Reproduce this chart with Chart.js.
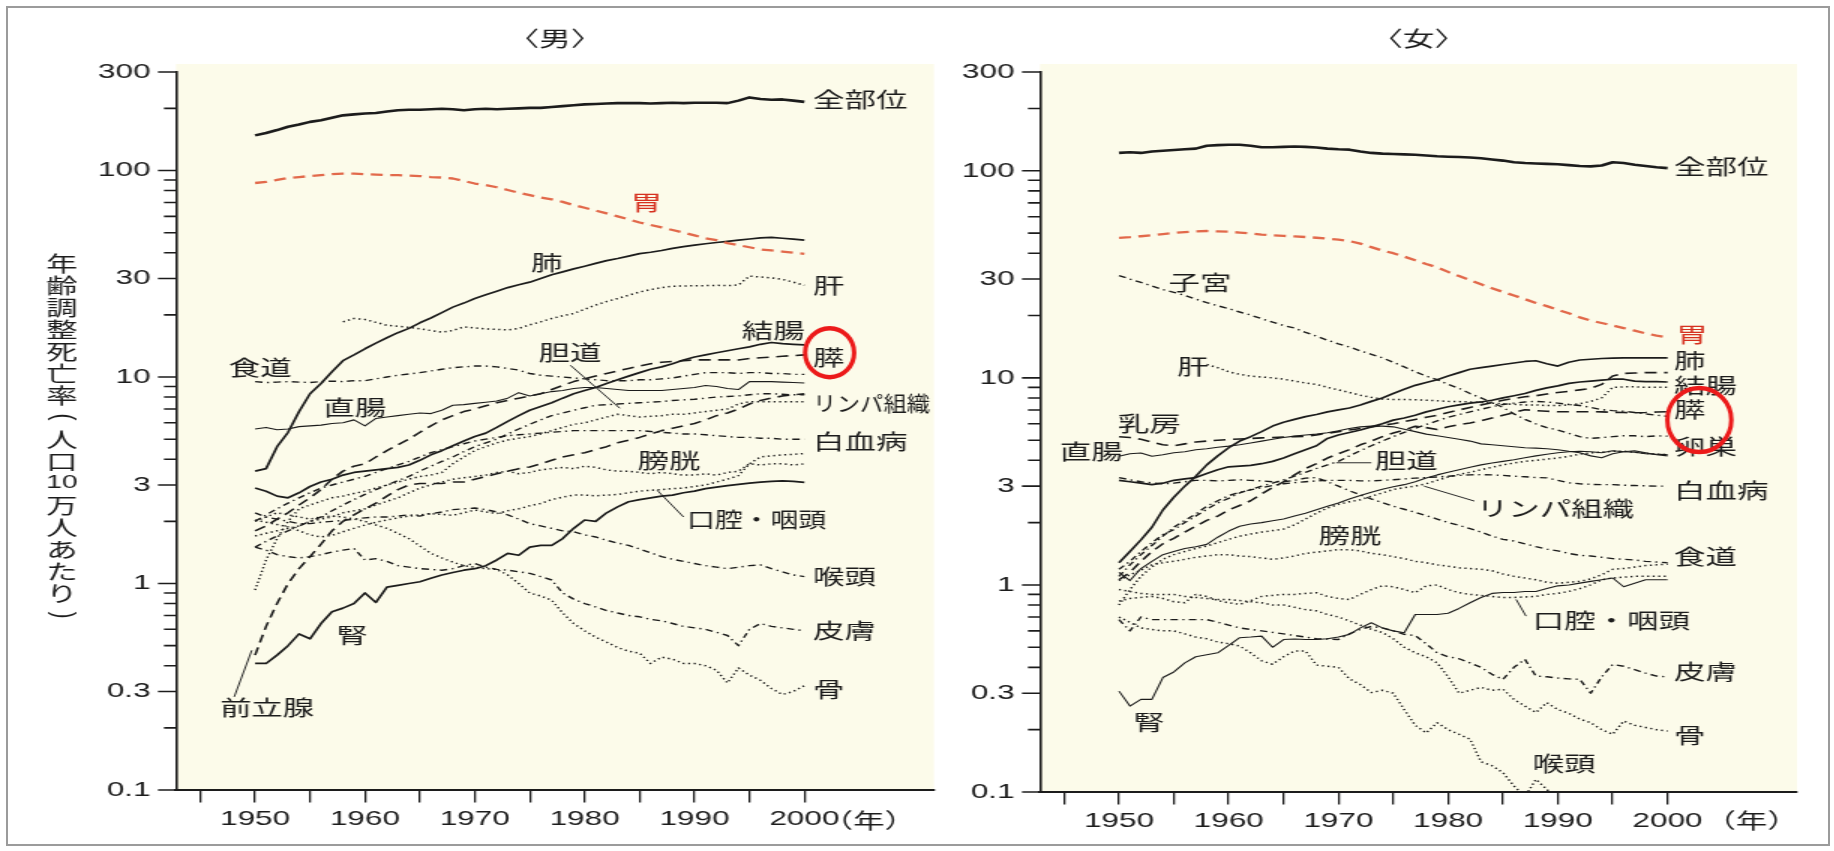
<!DOCTYPE html>
<html lang="ja">
<head>
<meta charset="utf-8">
<title>部位別がん年齢調整死亡率の年次推移（男・女）</title>
<script src="https://cdn.jsdelivr.net/npm/chart.js@4.4.1/dist/chart.umd.min.js"></script>
<style>
html, body { margin: 0; padding: 0; background: #fff; }
#fig { position: relative; width: 1834px; height: 851px; overflow: hidden; background: #fff; }
#frame { position: absolute; left: 6px; top: 6px; width: 1820px; height: 836px; border: 2px solid #9b9b9b; }
canvas { position: absolute; top: 0; }
</style>
</head>
<body>
<div id="fig">
  <div id="frame"></div>
  <!-- each panel is rendered on a narrower backing store and widened 1.5x by CSS -->
  <canvas id="male" width="634" height="851" style="left:0px;width:951px;height:851px;"></canvas>
  <canvas id="female" width="588" height="851" style="left:951px;width:882px;height:851px;"></canvas>
</div>
<script>
// ---------------- years ----------------
const YEARS = [1950,1951,1952,1953,1954,1955,1956,1957,1958,1959,
               1960,1961,1962,1963,1964,1965,1966,1967,1968,1969,
               1970,1971,1972,1973,1974,1975,1976,1977,1978,1979,
               1980,1981,1982,1983,1984,1985,1986,1987,1988,1989,
               1990,1991,1992,1993,1994,1995,1996,1997,1998,1999,
               2000];

// ---------------- 男 (rate per 100,000) ----------------
const M_ALL      = [148,152,157,163,167,172,175,180,185,187, 189,190,193,196,197,197,198,199,198,196, 198,199,198,199,200,201,201,203,205,207, 209,210,211,212,212,212,211,212,213,212, 213,213,213,212,218,226,222,220,221,218, 215];
const M_STOMACH  = [87,88,90,92,93,94,95,96,96.5,96.5, 96,95.5,95,95,94.5,94,93,92.5,91.5,89, 86.5,85,83,80.5,78,76,74,72.5,70.5,68, 66,64,62,60,58,56,54.5,53,51.5,50, 48.5,47,46,44.5,43.5,42.5,41.5,41,40.5,40, 39.5];
const M_LUNG     = [3.5,3.6,4.6,5.4,6.8,8.3,9.3,10.6,12,12.8, 13.7,14.6,15.5,16.4,17.2,18.3,19.3,20.5,21.8,22.8, 24,25,26,27.1,28,28.8,30,31.3,32.3,33.4, 34.4,35.5,36.6,37.5,38.5,39.6,40.2,41,42,42.8, 43.5,44.2,44.8,45.4,46,46.6,47.2,47.5,47,46.5, 46];
const M_LIVER    = [null,null,null,null,null,null,null,null,18.5,19.2, 19,18.4,17.8,17.6,17.4,17.1,16.8,16.5,16.8,17.5, 17.3,17.1,17.0,16.9,17.2,17.9,18.5,19.2,19.8,20.3, 21.3,22.3,23.2,24,24.9,25.8,26.5,27.1,27.5,27.6, 27.7,27.7,27.8,27.7,27.9,30.8,30.5,30.2,29.7,28.8, 27.8];
const M_COLON    = [2.9,2.8,2.65,2.6,2.75,2.95,3.1,3.2,3.35,3.45, 3.5,3.55,3.6,3.65,3.75,3.95,4.2,4.4,4.65,4.9, 5.15,5.35,5.7,6.1,6.5,6.9,7.2,7.5,7.9,8.3, 8.6,8.9,9.3,9.7,10.1,10.5,10.9,11.2,11.6,12.1, 12.5,12.8,13.1,13.4,13.7,14.0,14.4,14.7,14.5,14.4, 14.3];
const M_RECTUM   = [5.6,5.7,5.55,5.6,5.75,5.8,5.85,5.95,6.0,6.2, 5.8,6.3,6.4,6.5,6.6,6.7,6.65,6.9,7.3,7.35, 7.45,7.55,7.65,7.9,8.4,8.1,8.3,8.5,8.6,8.8, 8.9,8.9,8.8,8.7,8.6,8.6,8.6,8.6,8.7,8.8, 8.9,9.1,9.0,8.8,8.7,9.5,9.5,9.5,9.45,9.4, 9.35];
const M_PANCREAS = [1.8,1.9,2.05,2.2,2.4,2.6,2.85,3.2,3.5,3.7, 3.8,4.1,4.4,4.7,5.0,5.4,5.8,6.2,6.5,6.8, 7.0,7.25,7.5,7.7,7.9,8.1,8.3,8.7,9.1,9.5, 9.8,10.1,10.4,10.7,11.0,11.3,11.6,11.8,11.9,12.0, 12.1,12.1,12.1,12.1,12.1,12.3,12.4,12.5,12.6,12.7, 12.8];
const M_ESOPH    = [9.5,9.4,9.45,9.5,9.45,9.4,9.5,9.55,9.5,9.6, 9.6,9.8,10.0,10.2,10.35,10.5,10.7,10.9,11.1,11.2, 11.3,11.3,11.2,11.0,10.8,10.4,10.2,10.1,10.0,9.9, 9.8,9.7,9.6,9.6,9.6,9.7,9.7,9.8,9.9,10.1, 10.3,10.5,10.5,10.5,10.4,10.5,10.5,10.4,10.4,10.3, 10.3];
const M_BILIARY  = [1.5,1.6,1.7,1.8,1.9,2.0,2.1,2.25,2.4,2.55, 2.7,2.85,3.0,3.15,3.3,3.5,3.7,3.9,4.1,4.35, 4.6,4.8,5.0,5.3,5.6,5.9,6.2,6.5,6.7,6.9, 7.1,7.3,7.35,7.4,7.45,7.5,7.55,7.6,7.7,7.75, 7.8,7.9,8.0,8.05,8.1,8.2,8.3,8.3,8.25,8.2, 8.2];
const M_PROSTATE = [0.45,0.62,0.8,1.0,1.18,1.35,1.55,1.8,2.0,2.15, 2.3,2.45,2.65,2.85,3.0,3.05,3.05,3.05,3.1,3.1, 3.2,3.3,3.4,3.5,3.6,3.67,3.8,3.95,4.1,4.2, 4.3,4.45,4.6,4.8,4.95,5.1,5.3,5.5,5.65,5.8, 5.95,6.2,6.5,6.7,7.0,7.4,7.7,7.9,8.1,8.2, 8.3];
const M_LYMPH    = [0.93,1.3,1.65,2.0,2.3,2.4,2.5,2.6,2.65,2.73, 2.8,2.9,3.0,3.1,3.2,3.3,3.35,3.45,3.8,4.1, 4.4,4.6,4.8,4.95,5.05,5.15,5.3,5.5,5.7,5.9, 6.0,6.2,6.4,6.6,6.5,6.4,6.45,6.5,6.6,6.6, 6.7,6.8,6.9,7.0,7.4,7.6,7.6,7.6,7.6,7.6, 7.6];
const M_LEUK     = [2.0,2.15,2.3,2.45,2.6,2.75,2.9,3.0,3.1,3.2, 3.3,3.45,3.6,3.75,3.9,4.1,4.3,4.45,4.6,4.75, 4.9,5.0,5.1,5.2,5.25,5.3,5.35,5.4,5.45,5.5, 5.5,5.5,5.5,5.5,5.5,5.5,5.45,5.4,5.35,5.3, 5.3,5.25,5.2,5.15,5.1,5.1,5.05,5.05,5.0,5.0, 5.0];
const M_BLADDER  = [1.7,1.75,1.8,1.85,1.9,2.0,2.05,2.1,2.2,2.25, 2.3,2.4,2.5,2.6,2.75,2.9,3.0,3.1,3.2,3.25, 3.3,3.35,3.45,3.5,3.4,3.45,3.55,3.6,3.65,3.6, 3.7,3.65,3.55,3.5,3.5,3.45,3.4,3.45,3.4,3.35, 3.35,3.4,3.35,3.45,3.5,3.8,3.75,3.8,3.8,3.75, 3.8];
const M_ORAL     = [2.03,1.98,1.93,1.88,1.8,1.72,1.68,1.71,1.78,1.85, 1.92,1.98,2.03,2.08,2.12,2.15,2.18,2.16,2.14,2.2, 2.27,2.22,2.18,2.25,2.3,2.38,2.44,2.55,2.62,2.68, 2.68,2.66,2.68,2.7,2.75,2.8,2.83,2.85,2.88,2.9, 2.95,3.0,3.1,3.2,3.33,3.8,4.1,4.15,4.2,4.22, 4.26];
const M_KIDNEY   = [0.41,0.41,0.45,0.5,0.57,0.54,0.64,0.73,0.76,0.8, 0.9,0.81,0.96,0.98,1.0,1.02,1.06,1.1,1.13,1.16, 1.18,1.22,1.3,1.4,1.37,1.5,1.53,1.53,1.65,1.85, 2.03,2.0,2.2,2.35,2.49,2.55,2.6,2.65,2.68,2.75, 2.8,2.88,2.93,2.98,3.02,3.06,3.1,3.12,3.14,3.12, 3.09];
const M_LARYNX   = [2.2,2.1,2.05,2.0,1.95,1.95,1.98,2.0,2.02,2.05, 2.08,2.1,2.1,2.12,2.15,2.12,2.18,2.22,2.28,2.3, 2.32,2.28,2.22,2.15,2.05,1.95,1.9,1.85,1.8,1.78, 1.72,1.68,1.62,1.57,1.53,1.47,1.41,1.35,1.31,1.28, 1.25,1.22,1.2,1.18,1.2,1.22,1.23,1.18,1.14,1.1, 1.08];
const M_SKIN     = [1.5,1.45,1.38,1.35,1.33,1.35,1.38,1.42,1.45,1.48, 1.3,1.32,1.28,1.22,1.2,1.18,1.17,1.16,1.18,1.22, 1.25,1.2,1.17,1.16,1.14,1.12,1.08,1.04,0.9,0.84, 0.8,0.77,0.74,0.72,0.7,0.69,0.67,0.66,0.64,0.62, 0.61,0.6,0.58,0.56,0.5,0.6,0.64,0.62,0.61,0.6, 0.59];
const M_BONE     = [2.0,2.1,2.2,2.15,2.1,2.05,2.1,2.12,2.1,2.05, 2.0,1.92,1.85,1.75,1.65,1.52,1.4,1.33,1.27,1.22, 1.2,1.18,1.17,1.1,1.0,0.9,0.87,0.83,0.72,0.64, 0.59,0.55,0.52,0.49,0.47,0.46,0.41,0.44,0.43,0.41, 0.41,0.4,0.38,0.33,0.39,0.36,0.34,0.31,0.29,0.3, 0.32];

// ---------------- 女 (rate per 100,000) ----------------
const F_ALL      = [122,123,122,124,125,126,127,128,132,133, 133.5,133.5,132,130,130,130.5,131,130.5,129.5,128, 127,126.5,124,122,121,120.5,120,119.5,118.5,117.5, 117,116.5,116,115,113.5,112,110,109,108.5,108, 107.5,106.5,105.5,105,106,110,109,107,105.5,104, 103];
const F_STOMACH  = [47.4,47.8,48.3,48.8,49.5,50.1,50.6,51,51.2,51, 50.8,50.3,49.8,49.2,48.8,48.5,48.2,47.9,47.5,47, 46.5,45.8,44.5,42.8,41.2,40,38.5,37,35.5,34.2, 32.5,31,29.6,28.3,27.1,26,25,24,23,22.2, 21.3,20.5,19.6,18.9,18.4,17.9,17.4,16.9,16.4,16, 15.7];
const F_UTERUS   = [31.2,30,28.9,27.8,26.7,25.9,25,24,23.1,22.3, 21.6,20.8,20.1,19.3,18.6,17.9,17.4,16.6,15.9,15.2, 14.6,14.1,13.5,13.0,12.5,11.9,11.3,10.7,10.2,9.8, 9.3,8.9,8.4,8.0,7.6,7.2,6.7,6.3,6.0,5.75, 5.6,5.4,5.2,5.1,5.15,5.2,5.25,5.25,5.2,5.25, 5.23];
const F_LUNG     = [1.28,1.45,1.65,1.9,2.3,2.65,3.0,3.35,3.8,4.2, 4.6,4.95,5.2,5.5,5.85,6.1,6.3,6.5,6.65,6.85, 7.0,7.15,7.4,7.7,8.0,8.4,8.8,9.2,9.5,9.8, 10.2,10.6,11.0,11.2,11.4,11.6,11.8,12.0,12.1,11.7, 11.4,11.9,12.2,12.3,12.4,12.45,12.5,12.5,12.5,12.5, 12.5];
const F_COLON    = [3.2,3.15,3.1,3.05,3.1,3.2,3.25,3.3,3.45,3.6, 3.72,3.75,3.78,3.85,3.95,4.1,4.3,4.5,4.7,5.1, 5.3,5.45,5.6,5.8,6.0,6.25,6.4,6.6,6.85,7.05, 7.25,7.4,7.55,7.65,7.8,8.0,8.2,8.4,8.7,8.95, 9.15,9.4,9.55,9.65,9.75,9.85,9.85,9.65,9.6,9.6, 9.55];
const F_RECTUM   = [4.18,4.3,4.34,4.18,4.25,4.35,4.4,4.5,4.55,4.62, 4.68,4.75,4.85,4.95,5.05,5.15,5.23,5.3,5.35,5.43, 5.55,5.7,5.8,5.85,5.85,5.8,5.65,5.5,5.35,5.25, 5.15,5.05,4.95,4.8,4.75,4.7,4.65,4.6,4.58,4.55, 4.5,4.42,4.35,4.2,4.11,4.3,4.4,4.45,4.35,4.25, 4.2];
const F_LIVER    = [null,null,null,null,null,null,null,null,11.6,11.2, 10.7,10.4,10.2,10.1,10.0,9.85,9.65,9.45,9.3,9.0, 8.75,8.5,8.25,8.05,7.9,7.86,7.86,7.84,7.8,7.75, 7.7,7.68,7.65,7.6,7.55,7.5,7.45,7.4,7.4,7.35, 7.35,7.4,7.5,7.7,8.0,9.0,9.05,9.05,9.0,9.0, 9.0];
const F_BREAST   = [5.2,5.15,5.05,4.9,4.75,4.7,4.8,4.9,4.95,5.0, 5.04,5.07,5.1,5.13,5.15,5.18,5.2,5.22,5.3,5.4, 5.5,5.6,5.7,5.8,5.9,6.0,6.15,6.3,6.45,6.6, 6.8,7.0,7.2,7.4,7.6,7.8,7.95,8.1,8.2,8.35, 8.5,8.6,8.75,8.9,9.3,10.2,10.5,10.55,10.6,10.6, 10.6];
const F_PANCREAS = [1.06,1.15,1.3,1.45,1.58,1.68,1.8,1.92,2.05,2.15, 2.3,2.42,2.55,2.75,2.95,3.15,3.4,3.65,3.85,4.1, 4.3,4.5,4.75,4.95,5.2,5.42,5.6,5.84,5.75,5.63, 5.8,5.95,6.06,6.2,6.4,6.6,6.8,7.02,6.95,6.9, 6.86,6.86,6.86,6.86,6.85,6.82,6.8,6.78,6.8,6.84, 6.86];
const F_BILIARY  = [1.19,1.3,1.45,1.6,1.75,1.85,2.0,2.15,2.32,2.49, 2.62,2.78,2.89,3.0,3.1,3.22,3.35,3.5,3.65,3.8, 3.95,4.2,4.45,4.7,4.95,5.2,5.45,5.7,5.95,6.2, 6.45,6.65,6.85,7.05,7.25,7.44,7.55,7.65,7.7,7.65, 7.55,7.44,7.35,7.2,7.02,6.95,6.9,6.8,6.7,6.6, 6.52];
const F_OVARY    = [1.15,1.05,1.2,1.3,1.4,1.45,1.5,1.53,1.57,1.7, 1.82,1.92,1.97,2.0,2.04,2.08,2.15,2.22,2.31,2.4, 2.49,2.6,2.7,2.8,2.9,2.98,3.05,3.15,3.28,3.4, 3.5,3.6,3.7,3.8,3.88,3.95,4.02,4.11,4.2,4.28, 4.35,4.4,4.42,4.4,4.35,4.45,4.4,4.38,4.3,4.28, 4.26];
const F_LYMPH    = [0.8,0.95,1.1,1.22,1.33,1.4,1.45,1.5,1.54,1.6, 1.66,1.72,1.76,1.8,1.83,1.86,1.95,2.08,2.22,2.35, 2.45,2.52,2.58,2.68,2.78,2.89,2.95,3.0,3.08,3.2, 3.32,3.42,3.5,3.6,3.7,3.8,3.88,3.95,4.0,4.05, 4.1,4.18,4.28,4.34,4.38,4.42,4.42,4.38,4.32,4.28, 4.26];
const F_LEUK     = [1.1,1.25,1.4,1.55,1.72,1.9,2.05,2.2,2.4,2.55, 2.7,2.8,2.88,2.95,3.02,3.08,3.12,3.15,3.18,3.2, 3.2,3.2,3.18,3.18,3.2,3.22,3.25,3.28,3.3,3.32, 3.35,3.38,3.4,3.41,3.4,3.38,3.35,3.33,3.3,3.29, 3.2,3.11,3.08,3.06,3.05,3.05,3.03,3.02,3.01,3.0, 3.0];
const F_ESOPH    = [3.3,3.22,3.15,3.11,3.08,3.1,3.15,3.2,3.2,3.18, 3.2,3.22,3.2,3.18,3.15,3.15,3.2,3.28,3.3,3.15, 3.0,2.85,2.72,2.6,2.5,2.4,2.32,2.24,2.16,2.08, 2.0,1.94,1.87,1.8,1.72,1.66,1.63,1.58,1.53,1.49, 1.46,1.42,1.39,1.38,1.36,1.34,1.33,1.32,1.3,1.29, 1.28];
const F_BLADDER  = [1.05,1.12,1.18,1.25,1.28,1.3,1.33,1.36,1.38,1.4, 1.4,1.38,1.37,1.35,1.33,1.35,1.38,1.42,1.44,1.46, 1.48,1.48,1.46,1.42,1.4,1.37,1.34,1.3,1.28,1.25, 1.23,1.21,1.2,1.19,1.17,1.13,1.1,1.08,1.06,1.03, 1.02,1.03,1.04,1.07,1.12,1.19,1.2,1.22,1.24,1.25, 1.26];
const F_ORAL     = [0.835,0.86,0.87,0.88,0.86,0.83,0.82,0.9,0.88,0.84, 0.82,0.805,0.84,0.88,0.89,0.9,0.9,0.91,0.917,0.88, 0.86,0.85,0.9,0.95,0.99,0.98,0.95,0.917,0.99,1.0, 0.95,0.917,0.9,0.89,0.88,0.87,0.87,0.875,0.88,0.9, 0.91,0.93,0.96,1.0,1.06,1.08,1.09,1.1,1.1,1.1, 1.1];
const F_KIDNEY   = [0.307,0.26,0.28,0.28,0.357,0.38,0.42,0.45,0.46,0.47, 0.51,0.556,0.56,0.566,0.5,0.545,0.548,0.545,0.545,0.55, 0.56,0.577,0.62,0.657,0.62,0.6,0.588,0.72,0.72,0.72, 0.73,0.77,0.82,0.87,0.91,0.92,0.92,0.93,0.93,0.96, 0.99,1.0,1.02,1.04,1.06,1.08,0.98,1.02,1.06,1.06, 1.06];
const F_SKIN     = [0.68,0.6,0.7,0.68,0.68,0.68,0.68,0.68,0.68,0.66, 0.64,0.62,0.61,0.6,0.59,0.58,0.57,0.56,0.55,0.548, 0.545,0.58,0.61,0.63,0.62,0.6,0.577,0.57,0.52,0.47, 0.45,0.44,0.42,0.4,0.37,0.35,0.4,0.437,0.363,0.36, 0.355,0.352,0.35,0.3,0.36,0.413,0.405,0.39,0.375,0.363, 0.36];
const F_BONE     = [0.95,0.93,0.91,0.9,0.9,0.9,0.88,0.87,0.86,0.85, 0.85,0.84,0.83,0.82,0.8,0.8,0.78,0.76,0.75,0.72, 0.7,0.67,0.64,0.61,0.59,0.55,0.5,0.47,0.45,0.42, 0.36,0.3,0.31,0.32,0.31,0.314,0.28,0.26,0.242,0.27, 0.25,0.24,0.225,0.216,0.2,0.19,0.22,0.21,0.205,0.2, 0.197];
const F_LARYNX   = [0.7,0.66,0.62,0.61,0.6,0.6,0.58,0.56,0.55,0.53, 0.52,0.507,0.47,0.43,0.414,0.45,0.48,0.48,0.41,0.405, 0.4,0.352,0.33,0.302,0.31,0.3,0.25,0.21,0.193,0.216, 0.2,0.19,0.18,0.14,0.134,0.124,0.107,0.095,0.115,0.103, 0.09,0.085,0.08,0.078,0.075,0.08,0.078,0.076,0.075,0.074, 0.073];

// ---------------- axes ----------------
const X_MIN = 1942.8, X_MAX = 2011.8;
const X_TICKS = [1945,1950,1955,1960,1965,1970,1975,1980,1985,1990,1995,2000];
const X_TICK_LABELS = ['','1950','','1960','','1970','','1980','','1990','','2000'];
const Y_TICKS = [0.1,0.2,0.3,0.4,0.5,0.6,0.7,0.8,0.9, 1,2,3,4,5,6,7,8,9, 10,20,30,40,50,60,70,80,90, 100,200,300];
const Y_MAJOR = [0.1,0.3,1,3,10,30,100,300];
const Y_MAJOR_LABELS = ['0.1','0.3','1','3','10','30','100','300'];

// ---------------- look ----------------
const INK = '#1c1c1c';
const STOMACH_RED = '#e2694b';
const LABEL_RED = '#d6301f';
const MARK_RED = '#ec1a1a';
const PLOT_BG = '#fcfbea';
const FONT_NUM = '"Liberation Sans", Arial, sans-serif';
const FONT_JP = '"Noto Sans CJK JP", "Noto Sans CJK SC", sans-serif';

const STYLES = {
  thick:   { color: INK, width: 2.6, dash: [] },
  solid:   { color: INK, width: 1.7, dash: [] },
  thin:    { color: INK, width: 1.1, dash: [] },
  red:     { color: STOMACH_RED, width: 2.3, dash: [8, 5] },
  dash:    { color: INK, width: 1.6, dash: [8, 5] },
  dashdot: { color: INK, width: 1.4, dash: [5, 3, 1.3, 3] },
  dot:     { color: INK, width: 1.5, dash: [1.3, 2.4] }
};

const MALE = [
  ['全部位', M_ALL, 'thick'], ['胃', M_STOMACH, 'red'], ['肺', M_LUNG, 'solid'],
  ['肝', M_LIVER, 'dot'], ['結腸', M_COLON, 'solid'], ['膵', M_PANCREAS, 'dash'],
  ['食道', M_ESOPH, 'dashdot'], ['直腸', M_RECTUM, 'thin'], ['胆道', M_BILIARY, 'dashdot'],
  ['前立腺', M_PROSTATE, 'dash'], ['リンパ組織', M_LYMPH, 'dot'], ['白血病', M_LEUK, 'dashdot'],
  ['膀胱', M_BLADDER, 'dot'], ['口腔・咽頭', M_ORAL, 'dot'], ['腎', M_KIDNEY, 'solid'],
  ['喉頭', M_LARYNX, 'dashdot'], ['皮膚', M_SKIN, 'dashdot'], ['骨', M_BONE, 'dot']
];
const FEMALE = [
  ['全部位', F_ALL, 'thick'], ['胃', F_STOMACH, 'red'], ['子宮', F_UTERUS, 'dashdot'],
  ['肺', F_LUNG, 'solid'], ['結腸', F_COLON, 'solid'], ['直腸', F_RECTUM, 'thin'],
  ['肝', F_LIVER, 'dot'], ['乳房', F_BREAST, 'dash'], ['膵', F_PANCREAS, 'dash'],
  ['胆道', F_BILIARY, 'dashdot'], ['卵巣', F_OVARY, 'thin'], ['リンパ組織', F_LYMPH, 'dot'],
  ['白血病', F_LEUK, 'dashdot'], ['食道', F_ESOPH, 'dashdot'], ['膀胱', F_BLADDER, 'dot'],
  ['口腔・咽頭', F_ORAL, 'dot'], ['腎', F_KIDNEY, 'thin'], ['皮膚', F_SKIN, 'dashdot'],
  ['骨', F_BONE, 'dot'], ['喉頭', F_LARYNX, 'dot']
];

// series names placed in data units: [text, year, rate, red?, maxWidth?]
const MALE_LABELS = [
  ['全部位', 2000.8, 221], ['胃', 1984.2, 70.3, true], ['肺', 1975.1, 36.0],
  ['肝', 2000.8, 27.8], ['結腸', 1994.3, 16.85], ['膵', 2000.8, 12.47],
  ['胆道', 1975.8, 13.18], ['食道', 1947.6, 11.16], ['直腸', 1956.2, 7.14],
  ['リンパ組織', 2000.8, 7.47, false, 78], ['白血病', 2000.8, 4.89], ['膀胱', 1984.8, 3.955],
  ['口腔・咽頭', 1989.3, 2.048, false, 93], ['喉頭', 2000.8, 1.085], ['皮膚', 2000.8, 0.594],
  ['骨', 2000.8, 0.3077], ['腎', 1957.4, 0.5619], ['前立腺', 1946.8, 0.2518]
];
const FEMALE_LABELS = [
  ['全部位', 2000.6, 105], ['胃', 2000.8, 16.2, true], ['肺', 2000.6, 12.26],
  ['結腸', 2000.6, 9.28], ['膵', 2000.6, 7.11], ['卵巣', 2000.6, 4.71],
  ['白血病', 2000.6, 2.87], ['食道', 2000.6, 1.377], ['皮膚', 2000.6, 0.384],
  ['骨', 2000.6, 0.188], ['喉頭', 1987.7, 0.1376], ['子宮', 1954.5, 29.0],
  ['肝', 1955.3, 11.38], ['乳房', 1949.9, 6.06], ['直腸', 1944.6, 4.42],
  ['胆道', 1973.3, 4.03], ['リンパ組織', 1982.6, 2.36], ['膀胱', 1968.2, 1.75],
  ['口腔・咽頭', 1987.7, 0.675], ['腎', 1951.3, 0.218]
];
// leader lines: [year1, rate1, year2, rate2]
const MALE_POINTERS = [[1978.7, 11.4, 1983.2, 7.06], [1989.0, 2.10, 1986.6, 2.83], [1948.1, 0.2824, 1949.7, 0.475]];
const FEMALE_POINTERS = [[1969.8, 3.89, 1973.0, 3.89], [1982.4, 2.54, 1977.8, 3.0], [1987.1, 0.707, 1986.2, 0.851]];

const Y_TITLE_CHARS = ['年','齢','調','整','死','亡','率','(','人','口','10','万','人','あ','た','り',')'];

const PANELS = {
  male:   { heading: '〈男〉', series: MALE, labels: MALE_LABELS, pointers: MALE_POINTERS,
            ring: [2002.3, 13.12, 24.5], unitOffset: 43, yTitle: true,
            left: 117.33, right: 622.67, top: 72, bottom: 790 },
  female: { heading: '〈女〉', series: FEMALE, labels: FEMALE_LABELS, pointers: FEMALE_POINTERS,
            ring: [2002.9, 6.26, 32], unitOffset: 56, yTitle: false,
            left: 59.33, right: 564, top: 72, bottom: 792 }
};

// draws the cream plot field, y tick marks, headings, names, leaders and marks
const panelDecor = {
  id: 'panelDecor',
  beforeDraw(chart) {
    const { ctx, chartArea: a } = chart;
    ctx.save();
    ctx.fillStyle = PLOT_BG;
    ctx.fillRect(a.left, a.top - 8, a.right - a.left, a.bottom - a.top + 8);
    ctx.restore();
  },
  afterDraw(chart) {
    const p = PANELS[chart.canvas.id];
    const { ctx, chartArea: a, scales: { x, y } } = chart;
    const px = v => x.getPixelForValue(v);
    const py = v => y.getPixelForValue(v);
    const sx = chart.canvas.clientWidth / chart.canvas.width;
    ctx.save();

    // y tick marks: long at labelled values, short elsewhere
    ctx.strokeStyle = INK;
    ctx.lineWidth = 1.6;
    ctx.beginPath();
    for (const v of Y_TICKS) {
      const yy = py(v);
      const len = Y_MAJOR.includes(v) ? 12 : 8;
      ctx.moveTo(a.left - len, yy);
      ctx.lineTo(a.left, yy);
    }
    ctx.stroke();

    // heading and year unit
    ctx.fillStyle = INK;
    ctx.textAlign = 'center';
    ctx.textBaseline = 'middle';
    ctx.font = `21px ${FONT_JP}`;
    ctx.fillText(p.heading, (a.left + a.right) / 2, 38);
    ctx.fillText('（年）', px(2000) + p.unitOffset, 820);

    // leader lines
    ctx.strokeStyle = '#2a2a2a';
    ctx.lineWidth = 1;
    ctx.beginPath();
    for (const [y1, v1, y2, v2] of p.pointers) {
      ctx.moveTo(px(y1), py(v1));
      ctx.lineTo(px(y2), py(v2));
    }
    ctx.stroke();

    // series names
    ctx.textAlign = 'left';
    ctx.font = `21px ${FONT_JP}`;
    for (const [t, yr, v, red, maxW] of p.labels) {
      ctx.fillStyle = red ? LABEL_RED : INK;
      if (maxW) ctx.fillText(t, px(yr), py(v), maxW);
      else ctx.fillText(t, px(yr), py(v));
    }

    // red ring (kept round on screen despite the horizontal stretch)
    if (p.ring) {
      const [yr, v, r] = p.ring;
      ctx.save();
      ctx.translate(px(yr), py(v));
      ctx.scale(1 / sx, 1);
      ctx.beginPath();
      ctx.arc(0, 0, r, 0, Math.PI * 2);
      ctx.lineWidth = 4.5;
      ctx.strokeStyle = MARK_RED;
      ctx.stroke();
      ctx.restore();
    }

    // vertical axis title
    if (p.yTitle) {
      const tx = a.left - 76;
      ctx.fillStyle = INK;
      ctx.textAlign = 'center';
      Y_TITLE_CHARS.forEach((ch, i) => {
        const ty = 263 + i * 22;
        if (ch === '(' || ch === ')') {
          ctx.save();
          ctx.translate(tx, ty);
          ctx.rotate(Math.PI / 2);
          ctx.font = `21px ${FONT_NUM}`;
          ctx.fillText(ch, 0, 0);
          ctx.restore();
        } else if (ch === '10') {
          ctx.font = `19px ${FONT_NUM}`;
          ctx.fillText(ch, tx, ty);
        } else {
          ctx.font = `21px ${FONT_JP}`;
          ctx.fillText(ch, tx, ty);
        }
      });
    }
    ctx.restore();
  }
};

function makeChart(id) {
  const p = PANELS[id];
  const canvas = document.getElementById(id);
  const W = canvas.width, H = canvas.height;
  return new Chart(canvas, {
    type: 'line',
    data: {
      datasets: p.series.map(([name, values, style]) => {
        const st = STYLES[style];
        return {
          label: name,
          data: YEARS.map((yr, i) => ({ x: yr, y: values[i] })),
          borderColor: st.color,
          borderWidth: st.width,
          borderDash: st.dash,
          borderCapStyle: 'butt',
          borderJoinStyle: 'round',
          pointRadius: 0,
          pointHoverRadius: 0,
          fill: false,
          tension: 0,
          spanGaps: false
        };
      })
    },
    options: {
      responsive: false,
      animation: false,
      devicePixelRatio: 1,
      events: [],
      layout: { autoPadding: false, padding: { left: 0, top: p.top, right: W - p.right, bottom: 0 } },
      scales: {
        x: {
          type: 'linear', min: X_MIN, max: X_MAX,
          afterBuildTicks: s => { s.ticks = X_TICKS.map(v => ({ value: v })); },
          afterFit: s => { s.height = H - p.bottom; },
          ticks: {
            autoSkip: false, maxRotation: 0, minRotation: 0, padding: 4, color: INK,
            font: { family: FONT_NUM, size: 21 },
            callback: v => { const k = X_TICKS.indexOf(v); return k >= 0 ? X_TICK_LABELS[k] : ''; }
          },
          grid: { display: true, drawOnChartArea: false, drawTicks: true, tickLength: 12.5, color: INK, lineWidth: 1.3 },
          border: { display: true, color: INK, width: 2 }
        },
        y: {
          type: 'logarithmic', min: 0.1, max: 300,
          afterBuildTicks: s => { s.ticks = Y_TICKS.map(v => ({ value: v })); },
          afterFit: s => { s.width = p.left; },
          ticks: {
            autoSkip: false, padding: 17, color: INK,
            font: { family: FONT_NUM, size: 21 },
            callback: v => { const k = Y_MAJOR.indexOf(v); return k >= 0 ? Y_MAJOR_LABELS[k] : ''; }
          },
          grid: { display: false, drawTicks: false },
          border: { display: true, color: INK, width: 1.6 }
        }
      },
      plugins: { legend: { display: false }, tooltip: { enabled: false } }
    },
    plugins: [panelDecor]
  });
}

const fontsReady = Promise.all([
  document.fonts.load(`21px "Noto Sans CJK JP"`, '年齢調整死亡率男女'),
  document.fonts.load(`21px "Liberation Sans"`, '0123456789')
]).catch(() => null);
fontsReady.then(() => { makeChart('male'); makeChart('female'); });
</script>
</body>
</html>
